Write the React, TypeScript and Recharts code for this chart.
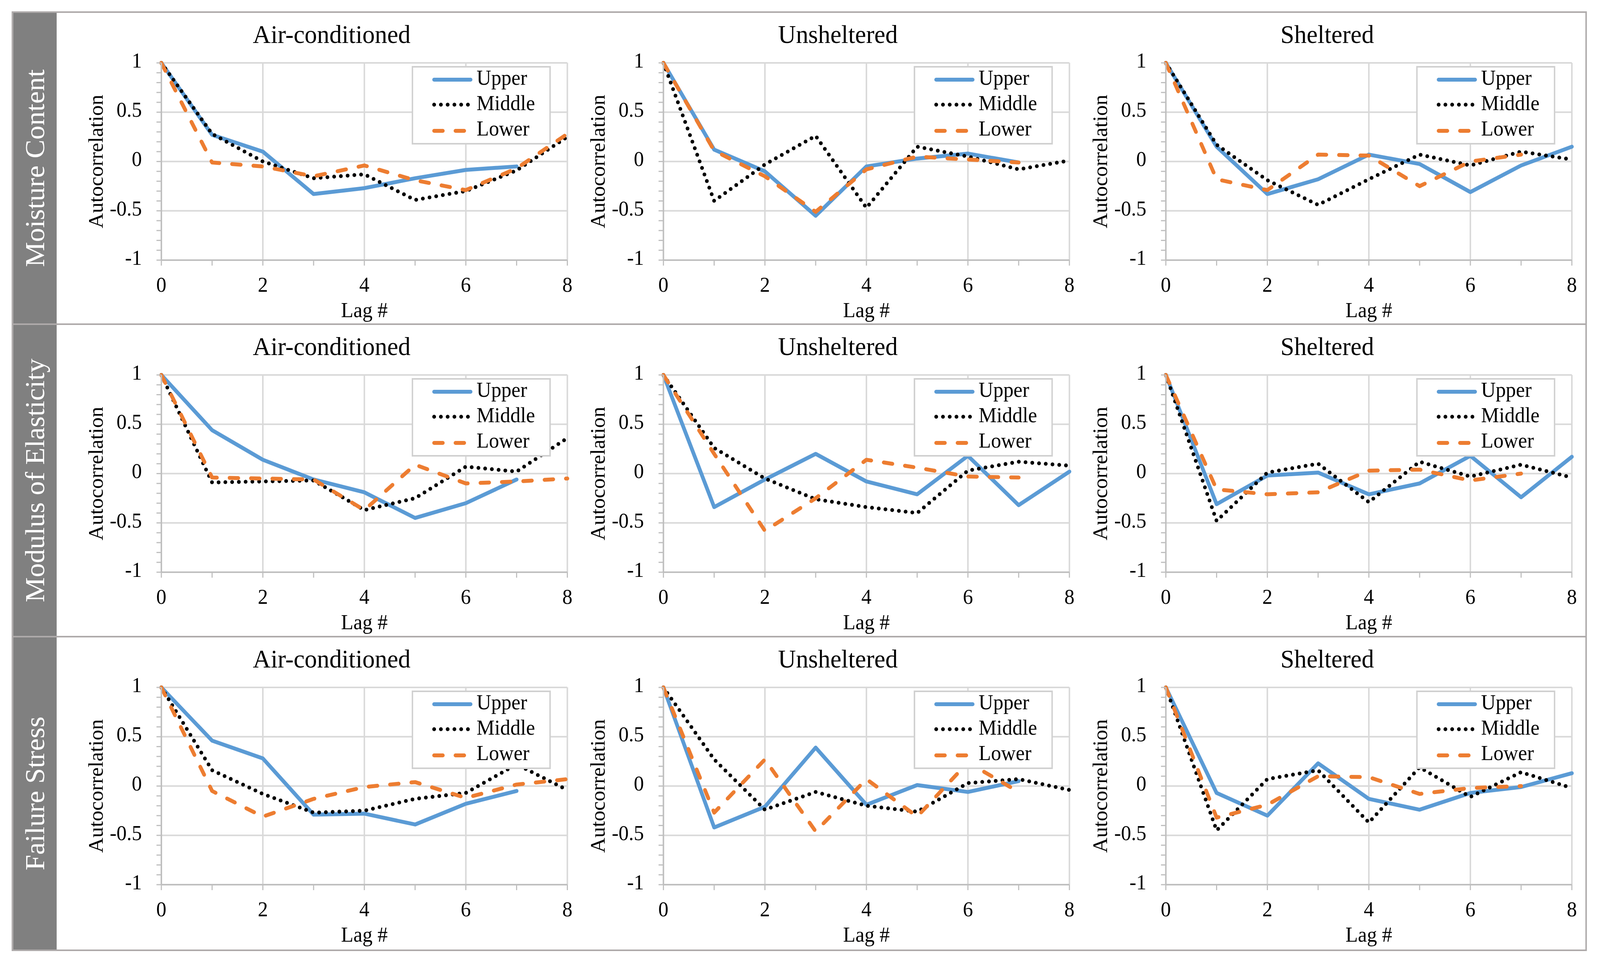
import React from 'react';
import { LineChart, Line, XAxis, YAxis, ReferenceLine, Legend } from 'recharts';

const FONT = "'Liberation Serif', 'Times New Roman', serif";

const LAGS = [0, 1, 2, 3, 4, 5, 6, 7, 8];
const X_TICKS = [0, 1, 2, 3, 4, 5, 6, 7, 8];
const X_LABELED = [0, 2, 4, 6, 8];
const Y_TICKS = [-1, -0.9, -0.8, -0.7, -0.6, -0.5, -0.4, -0.3, -0.2, -0.1, 0, 0.1, 0.2, 0.3, 0.4, 0.5, 0.6, 0.7, 0.8, 0.9, 1];
const Y_LABELED = [-1, -0.5, 0, 0.5, 1];
const GRID_X = [2, 4, 6, 8];
const GRID_Y = [-0.5, 0, 0.5, 1];

const ROW_LABELS = ['Moisture Content', 'Modulus of Elasticity', 'Failure Stress'];
const COL_TITLES = ['Air-conditioned', 'Unsheltered', 'Sheltered'];

// Moisture content
const MC_AIR_UPPER = [1, 0.27, 0.1, -0.33, -0.27, -0.17, -0.085, -0.05];
const MC_AIR_MIDDLE = [1, 0.28, 0.0, -0.17, -0.13, -0.39, -0.3, -0.09, 0.25];
const MC_AIR_LOWER = [1, -0.01, -0.05, -0.15, -0.04, -0.19, -0.29, -0.07, 0.28];
const MC_UNS_UPPER = [1, 0.12, -0.1, -0.55, -0.05, 0.03, 0.08, -0.01];
const MC_UNS_MIDDLE = [1, -0.4, -0.03, 0.26, -0.47, 0.15, 0.05, -0.08, 0.01];
const MC_UNS_LOWER = [1, 0.11, -0.15, -0.51, -0.08, 0.05, 0.02, -0.01];
const MC_SHE_UPPER = [1, 0.15, -0.33, -0.18, 0.07, -0.025, -0.31, -0.04, 0.15];
const MC_SHE_MIDDLE = [1, 0.17, -0.19, -0.44, -0.18, 0.07, -0.04, 0.1, 0.02];
const MC_SHE_LOWER = [1, -0.18, -0.29, 0.07, 0.06, -0.25, 0.0, 0.07];

// Modulus of elasticity
const MOE_AIR_UPPER = [1, 0.44, 0.14, -0.06, -0.19, -0.45, -0.3, -0.06];
const MOE_AIR_MIDDLE = [1, -0.09, -0.08, -0.07, -0.37, -0.25, 0.07, 0.02, 0.36];
const MOE_AIR_LOWER = [1, -0.04, -0.05, -0.06, -0.37, 0.09, -0.1, -0.08, -0.05];
const MOE_UNS_UPPER = [1, -0.34, -0.06, 0.2, -0.08, -0.21, 0.18, -0.32, 0.02];
const MOE_UNS_MIDDLE = [1, 0.26, -0.05, -0.26, -0.34, -0.4, 0.03, 0.12, 0.08];
const MOE_UNS_LOWER = [1, 0.2, -0.58, -0.25, 0.14, 0.06, -0.03, -0.04];
const MOE_SHE_UPPER = [1, -0.31, -0.02, 0.01, -0.21, -0.1, 0.18, -0.24, 0.17];
const MOE_SHE_MIDDLE = [1, -0.48, 0.01, 0.1, -0.29, 0.12, -0.03, 0.09, -0.04];
const MOE_SHE_LOWER = [1, -0.16, -0.21, -0.19, 0.03, 0.04, -0.07, 0.0];

// Failure stress
const FS_AIR_UPPER = [1, 0.46, 0.28, -0.29, -0.28, -0.39, -0.18, -0.05];
const FS_AIR_MIDDLE = [1, 0.16, -0.08, -0.27, -0.25, -0.13, -0.07, 0.22, -0.04];
const FS_AIR_LOWER = [1, -0.05, -0.31, -0.13, -0.01, 0.04, -0.12, 0.015, 0.07];
const FS_UNS_UPPER = [1, -0.42, -0.21, 0.39, -0.19, 0.01, -0.06, 0.05];
const FS_UNS_MIDDLE = [1, 0.27, -0.24, -0.06, -0.2, -0.26, 0.03, 0.07, -0.04];
const FS_UNS_LOWER = [1, -0.27, 0.27, -0.46, 0.07, -0.31, 0.24, -0.06];
const FS_SHE_UPPER = [1, -0.07, -0.3, 0.23, -0.13, -0.24, -0.07, -0.01, 0.13];
const FS_SHE_MIDDLE = [1, -0.45, 0.07, 0.16, -0.37, 0.19, -0.11, 0.14, -0.02];
const FS_SHE_LOWER = [1, -0.32, -0.19, 0.1, 0.09, -0.08, -0.02, 0.0];

const PANELS = [
  [
    [MC_AIR_UPPER, MC_AIR_MIDDLE, MC_AIR_LOWER],
    [MC_UNS_UPPER, MC_UNS_MIDDLE, MC_UNS_LOWER],
    [MC_SHE_UPPER, MC_SHE_MIDDLE, MC_SHE_LOWER],
  ],
  [
    [MOE_AIR_UPPER, MOE_AIR_MIDDLE, MOE_AIR_LOWER],
    [MOE_UNS_UPPER, MOE_UNS_MIDDLE, MOE_UNS_LOWER],
    [MOE_SHE_UPPER, MOE_SHE_MIDDLE, MOE_SHE_LOWER],
  ],
  [
    [FS_AIR_UPPER, FS_AIR_MIDDLE, FS_AIR_LOWER],
    [FS_UNS_UPPER, FS_UNS_MIDDLE, FS_UNS_LOWER],
    [FS_SHE_UPPER, FS_SHE_MIDDLE, FS_SHE_LOWER],
  ],
];

const SERIES = [
  { key: 'upper', name: 'Upper', color: '#5b9bd5', width: 10, dash: undefined },
  { key: 'middle', name: 'Middle', color: '#000000', width: 10, dash: '0 18' },
  { key: 'lower', name: 'Lower', color: '#ed7d31', width: 10, dash: '23 34' },
];

// layout (page pixels)
const W = 4264;
const H = 2463;
const ROW_TOPS = [31, 830, 1630];
const COL_LEFTS = [430, 1768, 3107];
const TITLE_DX = [454, 465, 430];
const PW = 1082;
const PH = 505;
const YW = 200;
const XH = 110;
const PAD_T = 60;
const PAD_R = 30;

// the browser may give a narrower viewport than asked for; squeeze to fit
const viewW =
  typeof window !== 'undefined' ? document.documentElement.clientWidth || window.innerWidth || W : W;
const viewH =
  typeof window !== 'undefined' ? document.documentElement.clientHeight || window.innerHeight || H : H;
const SX = Math.min(1, viewW / W);
const SY = Math.min(1, viewH / H);

const buildRows = (u: number[], m: number[], l: number[]) =>
  LAGS.map((lag, i) => ({ lag, upper: u[i], middle: m[i], lower: l[i] }));

const textStyle = { fontFamily: FONT };

const XTick = (props: any) => {
  const { x, y, payload } = props;
  if (!X_LABELED.includes(payload.value)) return <g />;
  return (
    <text x={x} y={y + 38} textAnchor="middle" fontSize={54} fontFamily={FONT} style={textStyle} fill="#000">
      {payload.value}
    </text>
  );
};

const YTick = (props: any) => {
  const { x, y, payload } = props;
  if (!Y_LABELED.includes(payload.value)) return <g />;
  return (
    <text x={x} y={y + 12} textAnchor="end" fontSize={54} fontFamily={FONT} style={textStyle} fill="#000">
      {String(payload.value)}
    </text>
  );
};

const LegendBox = (props: any) => {
  const payload = [...(props.payload || [])].sort(
    (a: any, b: any) =>
      SERIES.findIndex((s) => s.key === a.dataKey) - SERIES.findIndex((s) => s.key === b.dataKey)
  );
  const lineY = [35, 99, 166];
  const textY = [48, 113, 178];
  return (
    <svg width={371} height={201} style={{ display: 'block' }}>
      <rect x={2} y={2} width={367} height={197} fill="#fff" stroke="#d0d0d0" strokeWidth={4} />
      {payload.map((item: any, i: number) => {
        const s = SERIES.find((d) => d.key === item.dataKey) || SERIES[i];
        return (
          <g key={s.key}>
            <line
              x1={60}
              x2={157}
              y1={lineY[i]}
              y2={lineY[i]}
              stroke={s.color}
              strokeWidth={s.width}
              strokeDasharray={s.dash}
              strokeLinecap="round"
            />
            <text x={173} y={textY[i]} fontSize={54} fontFamily={FONT} style={textStyle} fill="#000">
              {s.name}
            </text>
          </g>
        );
      })}
    </svg>
  );
};

const Panel = ({ row, col }: { row: number; col: number }) => {
  const [u, m, l] = PANELS[row][col];
  const data = buildRows(u, m, l);
  const plotLeft = COL_LEFTS[col];
  const plotTop = ROW_TOPS[row] + 130;
  return (
    <div style={{ position: 'absolute', left: plotLeft - YW, top: plotTop - PAD_T }}>
      <LineChart
        width={YW + PW + PAD_R}
        height={PAD_T + PH + XH}
        data={data}
        margin={{ top: PAD_T, right: PAD_R, left: 0, bottom: 0 }}
      >
        {GRID_X.map((v) => (
          <ReferenceLine key={'gx' + v} x={v} stroke="#d9d9d9" strokeWidth={4} />
        ))}
        {GRID_Y.map((v) => (
          <ReferenceLine key={'gy' + v} y={v} stroke="#d9d9d9" strokeWidth={4} />
        ))}
        <XAxis
          type="number"
          dataKey="lag"
          domain={[0, 8]}
          ticks={X_TICKS}
          interval={0}
          height={XH}
          tickSize={14}
          tickMargin={29}
          axisLine={{ stroke: '#bfbfbf', strokeWidth: 4 }}
          tickLine={{ stroke: '#bfbfbf', strokeWidth: 3 }}
          tick={<XTick />}
        />
        <YAxis
          type="number"
          domain={[-1, 1]}
          ticks={Y_TICKS}
          interval={0}
          width={YW}
          tickSize={13}
          tickMargin={39}
          axisLine={{ stroke: '#bfbfbf', strokeWidth: 4 }}
          tickLine={{ stroke: '#bfbfbf', strokeWidth: 3 }}
          tick={<YTick />}
        />
        {SERIES.map((s) => (
          <Line
            key={s.key}
            type="linear"
            dataKey={s.key}
            name={s.name}
            stroke={s.color}
            strokeWidth={s.width}
            strokeDasharray={s.dash}
            strokeLinecap="round"
            strokeLinejoin="round"
            dot={false}
            activeDot={false}
            isAnimationActive={false}
          />
        ))}
        <Legend
          layout="vertical"
          align="center"
          verticalAlign="middle"
          content={<LegendBox />}
          wrapperStyle={{ position: 'absolute', left: YW + 667, top: PAD_T + 8, width: 371, height: 201 }}
        />
      </LineChart>
    </div>
  );
};

export default function App() {
  const frameL = 33;
  const frameR = 4227;
  const frameT = 31;
  const frameB = 2433;
  return (
    <div
      style={{
        position: 'absolute',
        left: 0,
        top: 0,
        width: Math.floor(W * SX),
        height: Math.floor(H * SY),
        overflow: 'hidden',
        background: '#fff',
      }}
    >
      <div
        style={{
          position: 'absolute',
          left: 0,
          top: 0,
          width: W,
          height: H,
          background: '#fff',
          fontFamily: FONT,
          transform: `scale(${SX}, ${SY})`,
          transformOrigin: '0 0',
        }}
      >
        <svg width={W} height={H} style={{ position: 'absolute', left: 0, top: 0 }}>
          <rect x={frameL + 2} y={frameT + 2} width={116} height={frameB - frameT - 4} fill="#808080" />
          <rect
            x={frameL}
            y={frameT}
            width={frameR - frameL}
            height={frameB - frameT}
            fill="none"
            stroke="#aeaaaa"
            strokeWidth={4}
          />
          {ROW_TOPS.slice(1).map((y) => (
            <line key={y} x1={frameL} x2={frameR} y1={y} y2={y} stroke="#aeaaaa" strokeWidth={4} />
          ))}
          {ROW_LABELS.map((label, r) => {
            const top = ROW_TOPS[r];
            const bottom = r < 2 ? ROW_TOPS[r + 1] : frameB;
            const cy = (top + bottom) / 2;
            return (
              <text
                key={label}
                x={93}
                y={cy}
                transform={`rotate(-90, 93, ${cy})`}
                textAnchor="middle"
                dominantBaseline="central"
                fontSize={72}
                fontFamily={FONT}
                style={textStyle}
                fill="#ffffff"
              >
                {label}
              </text>
            );
          })}
          {ROW_TOPS.map((r0, r) =>
            COL_LEFTS.map((pl, c) => {
              const plotTop = r0 + 130;
              const ax = pl - 175;
              const ay = plotTop + PH / 2;
              return (
                <g key={r + '-' + c}>
                  <text
                    x={pl + TITLE_DX[c]}
                    y={r0 + 79}
                    textAnchor="middle"
                    fontSize={66}
                    fontFamily={FONT}
                    style={textStyle}
                    fill="#000"
                  >
                    {COL_TITLES[c]}
                  </text>
                  <text
                    x={ax}
                    y={ay}
                    transform={`rotate(-90, ${ax}, ${ay})`}
                    textAnchor="middle"
                    dominantBaseline="central"
                    fontSize={54}
                    fontFamily={FONT}
                    style={textStyle}
                    fill="#000"
                  >
                    Autocorrelation
                  </text>
                  <text
                    x={pl + PW / 2}
                    y={r0 + 781}
                    textAnchor="middle"
                    fontSize={54}
                    fontFamily={FONT}
                    style={textStyle}
                    fill="#000"
                  >
                    Lag #
                  </text>
                </g>
              );
            })
          )}
        </svg>
        {[0, 1, 2].map((r) => [0, 1, 2].map((c) => <Panel key={r + '-' + c} row={r} col={c} />))}
      </div>
    </div>
  );
}
